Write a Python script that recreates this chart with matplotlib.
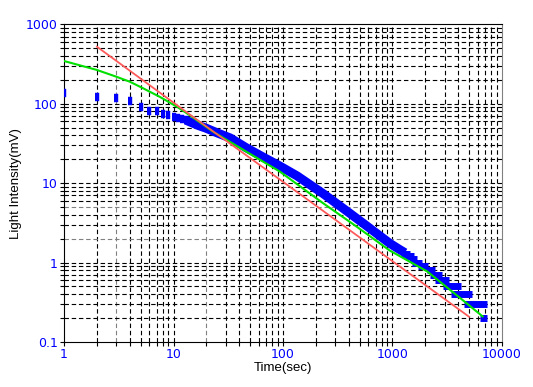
import numpy as np
import matplotlib.pyplot as plt
from matplotlib.ticker import FixedLocator, FuncFormatter

# blue measured points, early part (one point per second)
t_early = [1, 2, 3, 4, 5, 6, 7, 8, 9, 10, 11, 12, 13]
v_early = [135, 120, 117, 108, 90, 82, 80, 74, 72, 68, 66, 64, 62]

# blue measured points, dense part (read along the band)
t_band = [13, 17, 20, 25, 33, 46, 65, 93, 135, 232, 405, 600, 942, 1170, 1300]
v_band = [62, 53, 49, 43, 37, 28, 21.5, 16.5, 12.3, 7.4, 4.2, 2.8, 1.75, 1.45, 1.33]

# blue quantized tail: value and time span covered by the points
v_run = [1.3, 1.2, 1.1, 1.0, 0.9, 0.8, 0.7, 0.6, 0.5, 0.4, 0.3, 0.2]
t_run_start = [1200, 1300, 1420, 1500, 1700, 2050, 2190, 2430, 2870, 3400, 4470, 6250]
t_run_end = [1450, 1560, 1680, 1850, 2100, 2430, 2810, 3260, 4190, 5280, 7240, 7240]

# green fit
t_green = [1, 2, 3, 4, 5.3, 7.5, 10.7, 14, 23, 46, 93.5, 232, 468, 942, 2084, 2960, 4230, 6650]
v_green = [345, 266, 219, 189, 156, 122, 92, 72, 44.4, 25, 14, 5.6, 2.85, 1.42, 0.77, 0.52, 0.35, 0.21]

# red fit
t_red = [2, 14.1, 100, 5000]
v_red = [522, 73, 10.4, 0.208]

xticks = [1, 10, 100, 1000, 10000]
yticks = [0.1, 1, 10, 100, 1000]
gray_x = [3, 20]
gray_y = [2, 5]

blue = '#0000ff'
fig = plt.figure(figsize=(5.33, 3.87), dpi=100)
ax = fig.add_axes([64/533, 1-342/387, 438/533, 317.7/387])
ax.set_xscale('log')
ax.set_yscale('log')
ax.set_xlim(1, 10000)
ax.set_ylim(0.1, 1000)

# grid on every decade step
minor_x = [m*10**e for e in range(0, 4) for m in range(2, 10)]
minor_y = [m*10**e for e in range(-1, 3) for m in range(2, 10)]
dash = (0, (4, 2.5))
for x in minor_x + xticks[1:-1]:
    c = '#808080' if x in gray_x else 'black'
    ax.axvline(x, color=c, lw=0.8, ls=dash, zorder=1)
for y in minor_y + yticks[1:-1]:
    c = '#808080' if y in gray_y else 'black'
    ax.axhline(y, color=c, lw=0.8, ls=dash, zorder=1)

# blue data
bar = [(-1.5, -3.5), (1.5, -3.5), (1.5, 3.5), (-1.5, 3.5)]
ax.plot(t_early, v_early, ls='none', marker=bar, ms=5.3, mew=0.3, color=blue, zorder=3)
ax.plot(t_band, v_band, color=blue, lw=6.5, solid_capstyle='butt', zorder=3)
ax.hlines(v_run, t_run_start, t_run_end, colors=blue, lw=5.0, zorder=3)

ax.plot(t_green, v_green, color='#00e000', lw=1.5, zorder=4)
ax.plot(t_red, v_red, color='#ff5a5a', lw=1.3, zorder=5)

ax.xaxis.set_major_locator(FixedLocator(xticks))
ax.yaxis.set_major_locator(FixedLocator(yticks))
ax.xaxis.set_minor_locator(FixedLocator(minor_x))
ax.yaxis.set_minor_locator(FixedLocator(minor_y))
fmt = FuncFormatter(lambda v, p: '%g' % v)
ax.xaxis.set_major_formatter(fmt)
ax.yaxis.set_major_formatter(fmt)
ax.xaxis.set_minor_formatter(FuncFormatter(lambda v, p: ''))
ax.yaxis.set_minor_formatter(FuncFormatter(lambda v, p: ''))
ax.tick_params(which='both', direction='out', length=3, width=0.8, colors='black',
               labelcolor=blue, labelsize=9, pad=1.5)
for lab in ax.get_xticklabels() + ax.get_yticklabels():
    lab.set_family('DejaVu Sans')

ax.spines['right'].set_color('#808080')
for s in ['left', 'bottom', 'top']:
    ax.spines[s].set_color('black')

ax.set_xlabel('Time(sec)', family='Liberation Sans', fontsize=9.5)
ax.set_ylabel('Light Intensity(mV)', family='Liberation Sans', fontsize=9.5)
ax.xaxis.set_label_coords(0.5, -0.063)
ax.yaxis.set_label_coords(-0.095, 0.5)

fig.savefig('out.png', dpi=100)
